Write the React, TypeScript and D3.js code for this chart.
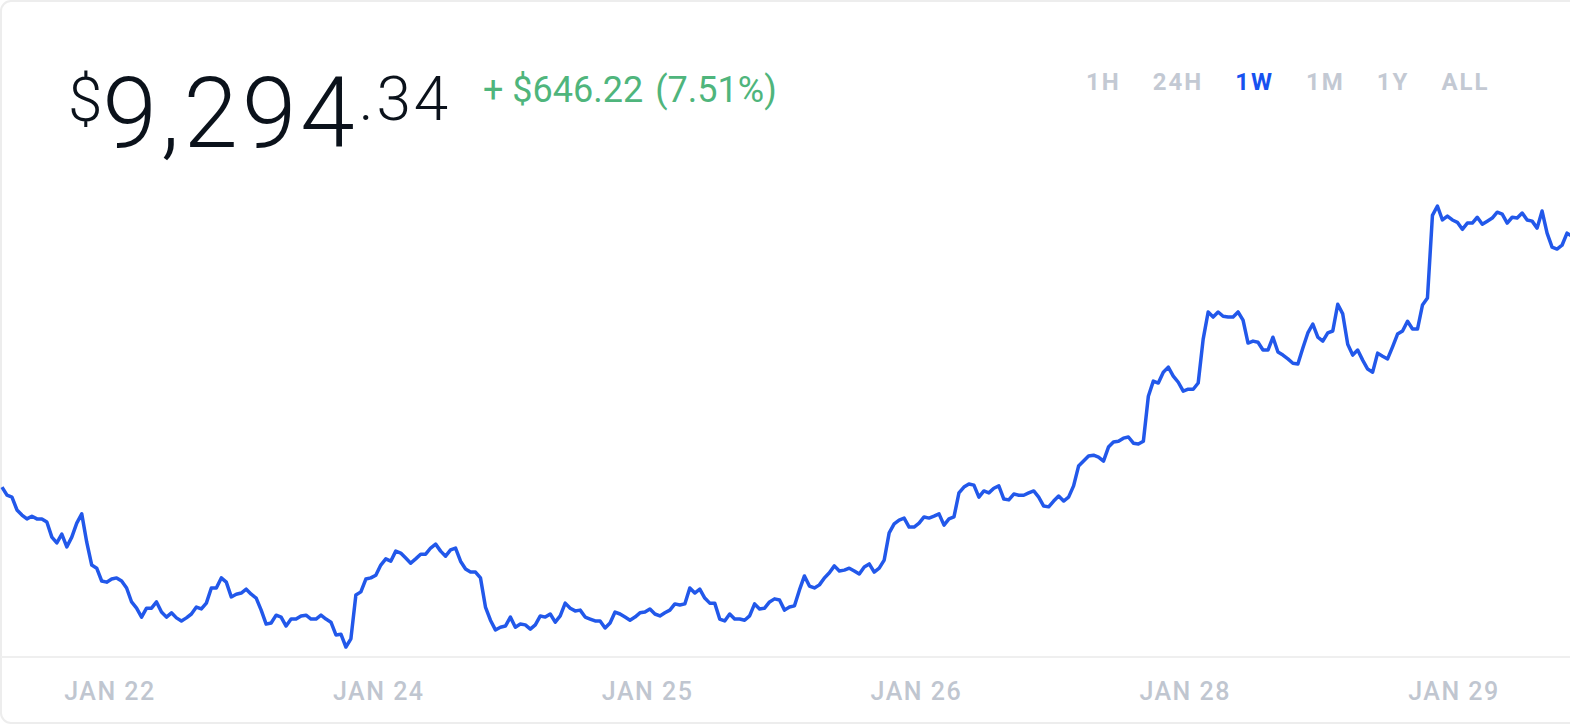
import React, { useEffect, useRef } from 'react'
import * as d3 from 'd3'

// BTC price, 1W view (one point per ~30 min)
const prices = [
  8648, 8627, 8622, 8589, 8576, 8566, 8573, 8566, 8566, 8558, 8519, 8504, 8527, 8494, 8519, 8555, 8579, 8506, 8447, 8439,
  8406, 8403, 8411, 8414, 8406, 8388, 8352, 8336, 8313, 8336, 8336, 8352, 8326, 8313, 8324, 8311, 8303, 8311, 8321, 8339,
  8334, 8349, 8388, 8388, 8414, 8403, 8365, 8372, 8375, 8385, 8372, 8362, 8331, 8295, 8298, 8318, 8313, 8290, 8308, 8308,
  8316, 8318, 8308, 8308, 8318, 8308, 8300, 8267, 8269, 8236, 8257, 8370, 8378, 8411, 8414, 8421, 8447, 8463, 8457, 8483,
  8478,
  8465, 8452, 8463, 8475, 8475, 8491, 8501, 8483, 8470, 8486, 8491, 8457, 8437, 8429, 8429, 8414, 8339, 8305, 8280, 8287,
  8290, 8313, 8287, 8295, 8293, 8282, 8293, 8316, 8313, 8321, 8300, 8316, 8349, 8336, 8329, 8331, 8313, 8308, 8303, 8303,
  8285, 8298, 8326, 8321, 8313, 8305, 8313, 8324, 8326, 8334, 8321, 8316, 8324, 8331, 8347, 8344, 8347, 8388, 8375, 8385,
  8362, 8349, 8349, 8308, 8303, 8321, 8308, 8308, 8305, 8316, 8347, 8334, 8336, 8352, 8360, 8357, 8331, 8339, 8342, 8383,
  8419,
  8393, 8388, 8396, 8414, 8427, 8445, 8432, 8434, 8439, 8432, 8424, 8442, 8450, 8429, 8439, 8460, 8530, 8553, 8563, 8568,
  8545, 8545, 8555, 8571, 8568, 8573, 8579, 8550, 8566, 8571, 8633, 8648, 8656, 8653, 8622, 8638, 8633, 8645, 8651, 8617,
  8615, 8630, 8627, 8627, 8633, 8638, 8622, 8599, 8597, 8612, 8625, 8612, 8622, 8651, 8702, 8715, 8728, 8730, 8725, 8715,
  8751, 8764, 8766, 8774, 8777, 8761, 8759, 8766,
  8882, 8921, 8916, 8944, 8957, 8934, 8918, 8895, 8900, 8900, 8916, 9029, 9099, 9086, 9099, 9088, 9086, 9086, 9099, 9078,
  9019, 9024, 9021, 9001, 9001, 9034, 8996, 8988, 8978, 8967, 8965, 9006, 9045, 9068, 9034, 9024, 9045, 9050, 9119, 9094,
  9016, 8988, 9001, 8975, 8952, 8944, 8993, 8985, 8978, 9009, 9042, 9050, 9075, 9055, 9055, 9117, 9135, 9348, 9372, 9336,
  9346, 9336, 9330, 9312, 9328, 9328, 9343, 9325, 9333, 9341, 9356, 9351, 9328, 9343, 9341, 9354, 9336, 9333, 9315, 9359,
  9302, 9266, 9261, 9271, 9302, 9294,
]

const dateLabels = ['JAN 22', 'JAN 24', 'JAN 25', 'JAN 26', 'JAN 28', 'JAN 29']
const ranges = ['1H', '24H', '1W', '1M', '1Y', 'ALL']
const activeRange = '1W'

const currentPrice = 9294.34
const priceChange = 646.22
const changePct = 7.51

const width = 1570
const height = 726

function App() {
  const svgRef = useRef<SVGSVGElement>(null)

  useEffect(() => {
    const svg = d3.select(svgRef.current)
    svg.selectAll('*').remove()

    // card
    svg.append('rect')
      .attr('x', 1).attr('y', 1)
      .attr('width', width + 40).attr('height', 722)
      .attr('rx', 10)
      .attr('fill', '#fff')
      .attr('stroke', '#ededed')
      .attr('stroke-width', 2)

    svg.append('line')
      .attr('x1', 1).attr('x2', width)
      .attr('y1', 657).attr('y2', 657)
      .attr('stroke', '#efefef')
      .attr('stroke-width', 2)

    // header price
    const whole = d3.format(',')(Math.floor(currentPrice))
    const cents = '.' + d3.format('02d')(Math.round((currentPrice % 1) * 100))
    const head = svg.append('text')
      .attr('x', 68)
      .attr('font-family', 'Roboto, sans-serif')
      .attr('font-weight', 300)
      .attr('fill', '#0b121b')
    head.append('tspan').attr('y', 121).attr('font-size', 62).text('$')
    head.append('tspan').attr('y', 147).attr('font-size', 98).attr('letter-spacing', 4).text(whole)
    head.append('tspan').attr('y', 120).attr('font-size', 62).attr('letter-spacing', 3).text(cents)

    const chg = svg.append('text')
      .attr('x', 483).attr('y', 102)
      .attr('font-family', 'Roboto, sans-serif')
      .attr('font-size', 36)
      .attr('fill', '#4fb57c')
    chg.append('tspan').text('+ $' + d3.format('.2f')(priceChange))
    chg.append('tspan').attr('dx', 12).text('(' + d3.format('.2f')(changePct) + '%)')

    // range selector
    let cx = 1086
    ranges.forEach((r) => {
      const t = svg.append('text')
        .attr('x', cx).attr('y', 90)
        .attr('font-family', 'Roboto, sans-serif')
        .attr('font-weight', 700)
        .attr('font-size', 24)
        .attr('letter-spacing', 2)
        .attr('fill', r === activeRange ? '#1652f0' : '#c3c9d3')
        .text(r)
      const w = (t.node() as SVGTextElement).getComputedTextLength()
      cx += w + 32
    })

    // scales
    const xScale = d3.scaleLinear()
      .domain([0, prices.length - 1])
      .range([2, 1572])
    const yScale = d3.scaleLinear()
      .domain(d3.extent(prices) as [number, number])
      .range([647, 206])

    const line = d3.line<number>()
      .x((d, i) => xScale(i))
      .y((d) => yScale(d))

    svg.append('path')
      .datum(prices)
      .attr('d', line)
      .attr('fill', 'none')
      .attr('stroke', '#2258ea')
      .attr('stroke-width', 3.5)
      .attr('stroke-linejoin', 'round')

    // date axis
    const labelScale = d3.scalePoint()
      .domain(dateLabels)
      .range([110, 1454])
    svg.append('g')
      .selectAll('text')
      .data(dateLabels)
      .join('text')
      .attr('x', (d) => labelScale(d) as number)
      .attr('y', 700)
      .attr('text-anchor', 'middle')
      .attr('font-family', 'Roboto, sans-serif')
      .attr('font-weight', 500)
      .attr('font-size', 25)
      .attr('letter-spacing', 1.5)
      .attr('fill', '#c0c6d0')
      .text((d) => d)
  }, [])

  return (
    <svg
      ref={svgRef}
      width={width}
      height={height}
      style={{ position: 'absolute', left: 0, top: 0, background: '#fff' }}
    />
  )
}

export default App
